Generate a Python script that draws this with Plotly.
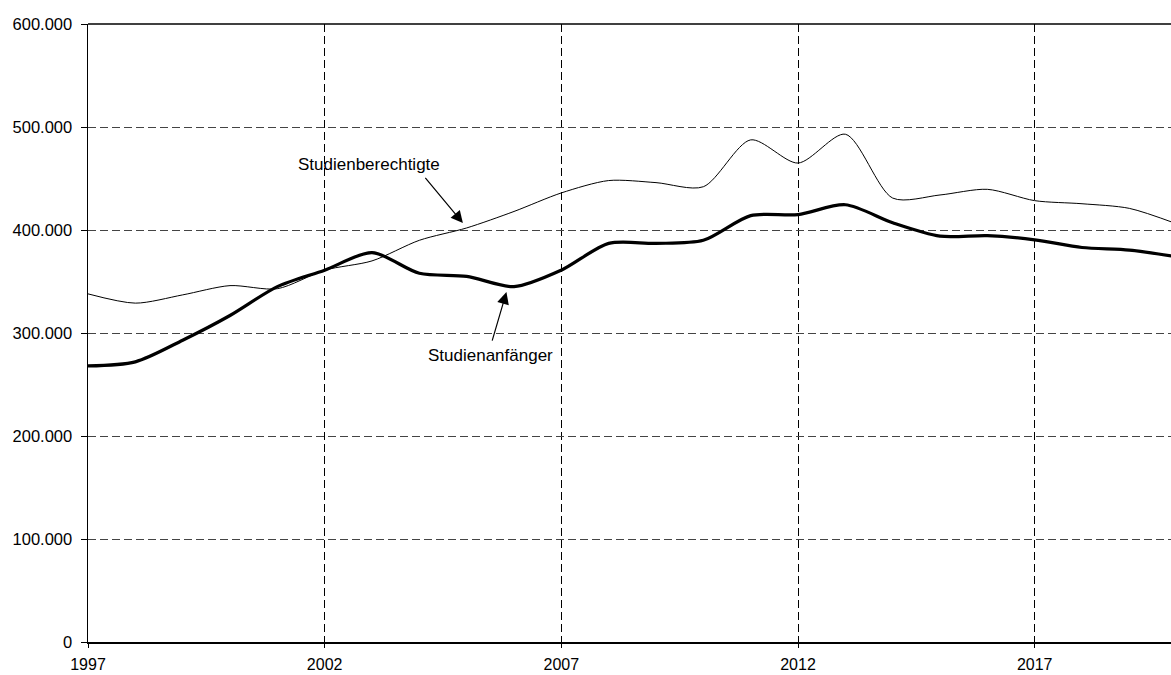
import plotly.graph_objects as go

years = list(range(1997, 2021))
studienanfaenger = [268000, 272000, 293000, 317000, 345000, 361000, 378000, 358000, 355000, 345000,
                    361000, 387000, 387000, 390000, 414000, 415000, 424500, 407000, 394000, 394500,
                    390500, 383000, 380500, 374000]
studienberechtigte = [338000, 329000, 337000, 346000, 343000, 361000, 370000, 390000, 402000, 418000,
                      436000, 448000, 446000, 442000, 487500, 465000, 493000, 431000, 434000, 439500,
                      428500, 425500, 421000, 406000]
y_ticks = [0, 100000, 200000, 300000, 400000, 500000, 600000]
x_ticks = [1997, 2002, 2007, 2012, 2017]

FONT = "Liberation Sans, Arial, sans-serif"

fig = go.Figure()
fig.add_trace(go.Scatter(x=years, y=studienberechtigte, mode="lines",
                         line=dict(color="black", width=1, shape="spline", smoothing=0.8),
                         name="Studienberechtigte", hoverinfo="skip"))
fig.add_trace(go.Scatter(x=years, y=studienanfaenger, mode="lines",
                         line=dict(color="black", width=3.2, shape="spline", smoothing=0.8),
                         name="Studienanfänger", hoverinfo="skip"))

# labels
fig.add_annotation(x=2002.93, y=463600, text="Studienberechtigte", showarrow=False,
                   font=dict(family=FONT, size=17, color="black"))
fig.add_annotation(x=2004.92, y=406700, ax=2004.1, ay=452000, axref="x", ayref="y",
                   text="", showarrow=True, arrowhead=2, arrowsize=2, arrowwidth=1.2,
                   arrowcolor="black")
fig.add_annotation(x=2005.5, y=278300, text="Studienanfänger", showarrow=False,
                   font=dict(family=FONT, size=17, color="black"))
fig.add_annotation(x=2005.84, y=339700, ax=2005.53, ay=291200, axref="x", ayref="y",
                   text="", showarrow=True, arrowhead=2, arrowsize=2, arrowwidth=1.2,
                   arrowcolor="black")

# top border
fig.add_shape(type="line", xref="paper", yref="paper", x0=0, x1=1, y0=1, y1=1,
              line=dict(color="black", width=1.5))

fig.update_layout(
    width=1171, height=675,
    margin=dict(l=88, r=0, t=23.5, b=33.3),
    paper_bgcolor="white", plot_bgcolor="white",
    showlegend=False,
    separators=",.",
    font=dict(family=FONT, size=16, color="black"),
)
fig.update_xaxes(range=[1997, 2019.88], tickvals=x_ticks, ticktext=[str(v) for v in x_ticks],
                 showgrid=True, gridcolor="black", gridwidth=1, griddash="8px,4px",
                 showline=True, linecolor="black", linewidth=1.5,
                 ticks="outside", ticklen=4, tickcolor="black", zeroline=False,
                 ticklabelstandoff=3,
                 tickfont=dict(family=FONT, size=16, color="black"))
fig.update_yaxes(range=[0, 600000], tickvals=y_ticks, tickformat=",d",
                 showgrid=True, gridcolor="#444444", gridwidth=1, griddash="8px,4px",
                 showline=True, linecolor="black", linewidth=1.5,
                 ticks="outside", ticklen=6, tickcolor="black", zeroline=False,
                 ticklabelstandoff=5,
                 tickfont=dict(family=FONT, size=16.5, color="black"))

fig.write_html("out.html", config={"displayModeBar": False, "staticPlot": True},
               post_script="document.body.style.margin='0';document.body.style.overflow='hidden';")
